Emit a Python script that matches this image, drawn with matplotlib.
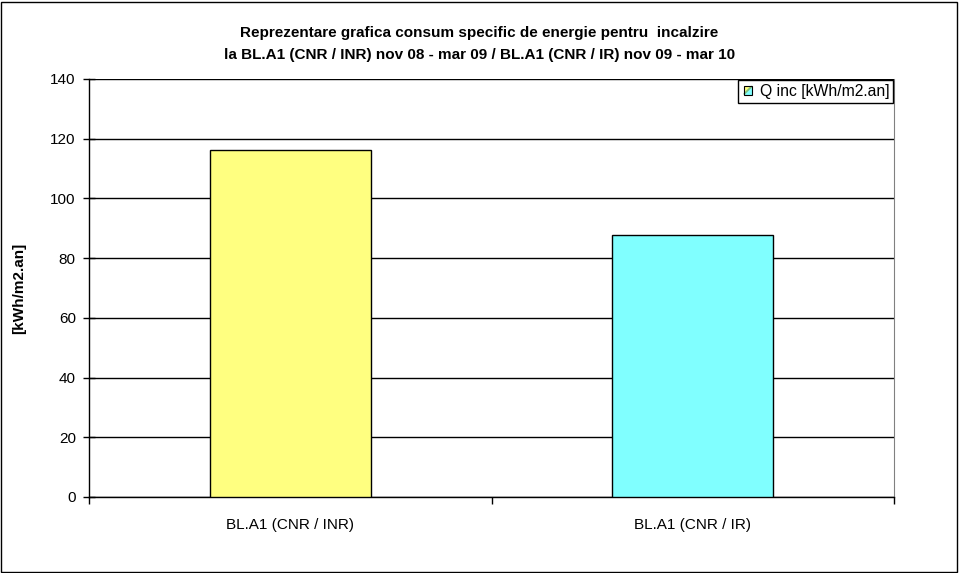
import matplotlib.pyplot as plt
import matplotlib.patches as mpatches
from matplotlib.legend_handler import HandlerBase

plt.rcParams['font.family'] = ['Liberation Sans', 'DejaVu Sans']

categories = ['BL.A1 (CNR / INR)', 'BL.A1 (CNR / IR)']
q_inc = [116.2, 87.7]
bar_colors = ['#ffff80', '#80ffff']
series_name = 'Q inc [kWh/m2.an]'
yticks = [0, 20, 40, 60, 80, 100, 120, 140]


class SplitSquare(HandlerBase):
    # legend key: square split diagonally yellow / cyan, like the excel "vary colors" key
    def create_artists(self, legend, orig, xd, yd, w, h, fontsize, trans):
        s = h * 0.8
        x0 = xd + (w - s) / 2
        y0 = yd + (h - s) / 2
        t1 = mpatches.Polygon([[x0, y0], [x0, y0 + s], [x0 + s, y0 + s]],
                              closed=True, fc=bar_colors[0], ec='none', transform=trans)
        t2 = mpatches.Polygon([[x0, y0], [x0 + s, y0], [x0 + s, y0 + s]],
                              closed=True, fc=bar_colors[1], ec='none', transform=trans)
        mid = mpatches.Polygon([[x0, y0 + s * 0.15], [x0 + s * 0.85, y0 + s], [x0 + s, y0 + s],
                                [x0 + s, y0 + s * 0.85], [x0 + s * 0.15, y0], [x0, y0]],
                               closed=True, fc='#80c080', ec='none', transform=trans)
        box = mpatches.Rectangle((x0, y0), s, s, fc='none', ec='black', lw=0.8, transform=trans)
        return [t1, t2, mid, box]


fig = plt.figure(figsize=(9.59, 5.73), dpi=100)
ax = fig.add_axes([89 / 959, 1 - 497 / 573, (894 - 89) / 959, (497 - 79) / 573])

x = range(len(categories))
ax.bar(x, q_inc, width=0.4, color=bar_colors, edgecolor='black', linewidth=1, zorder=3)

ax.set_xlim(-0.5, 1.5)
ax.set_ylim(0, 140)
ax.set_yticks(yticks)
ax.yaxis.grid(True, color='black', linewidth=1)
ax.set_axisbelow(True)

ax.set_xticks([-0.5, 0.5, 1.5])
ax.set_xticklabels([])
ax.set_xticks([0, 1], minor=True)
ax.set_xticklabels(categories, minor=True)
ax.tick_params(axis='x', which='major', direction='out', length=5, width=1, colors='black')
ax.tick_params(axis='x', which='minor', length=0, pad=15, labelsize=11)
ax.tick_params(axis='y', direction='inout', length=8, width=1, labelsize=11, pad=5.5)

ax.spines['top'].set_visible(False)
ax.spines['right'].set_color('#808080')
ax.spines['left'].set_linewidth(1)
ax.spines['bottom'].set_linewidth(1)

ax.set_ylabel('[kWh/m2.an]', fontweight='bold', fontsize=11)
ax.yaxis.set_label_coords(-0.078, 0.5)

fig.suptitle('Reprezentare grafica consum specific de energie pentru  incalzire\n'
             'la BL.A1 (CNR / INR) nov 08 - mar 09 / BL.A1 (CNR / IR) nov 09 - mar 10',
             fontweight='bold', fontsize=11, y=1 - 26 / 573, va='top', linespacing=1.7)

handle = mpatches.Patch(label=series_name)
leg = ax.legend(handles=[handle], loc='upper right', handler_map={mpatches.Patch: SplitSquare()},
                fontsize=11.3, frameon=True, fancybox=False, edgecolor='black', framealpha=1,
                borderaxespad=0.05, handlelength=0.7, handletextpad=0.4, borderpad=0.25)
leg.get_frame().set_linewidth(1)

fig.patches.append(mpatches.Rectangle((1 / 959, 1 / 573), 956 / 959, 570 / 573,
                                      transform=fig.transFigure, fill=False,
                                      edgecolor='black', linewidth=1))

fig.savefig('out.png', dpi=100)
